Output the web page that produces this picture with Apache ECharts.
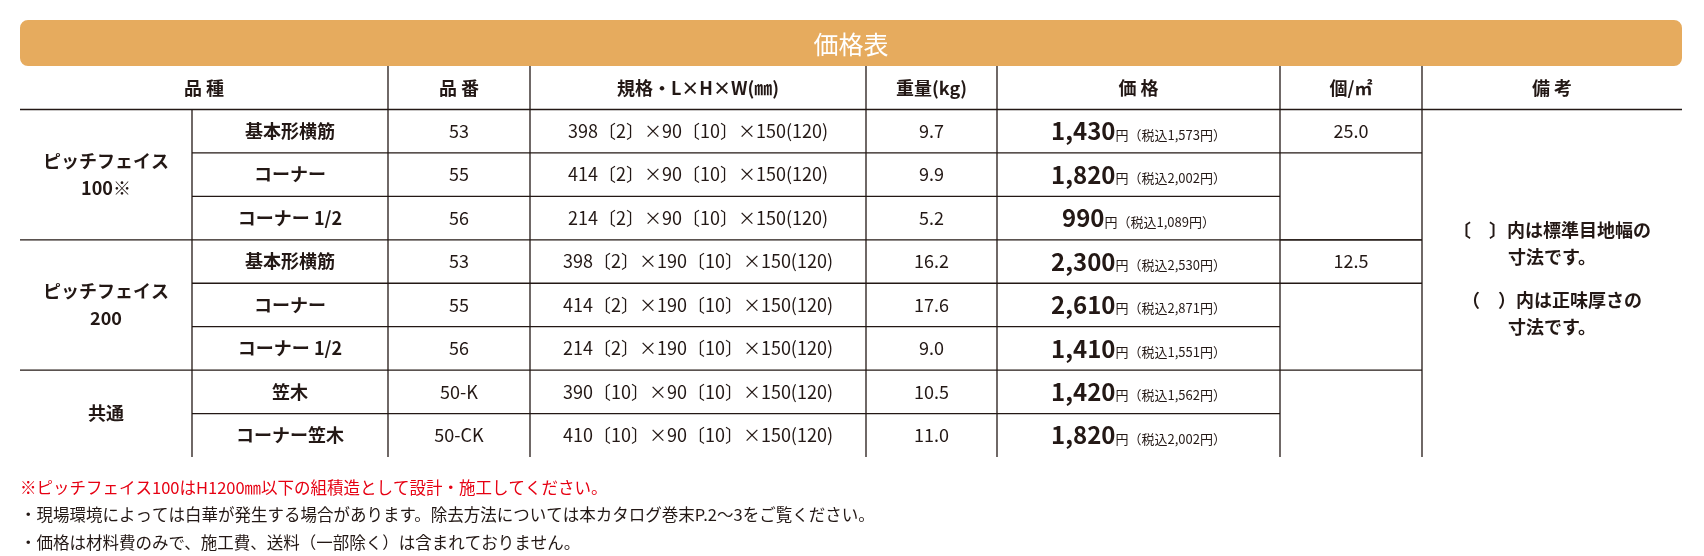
<!DOCTYPE html>
<html>
<head>
<meta charset="utf-8">
<script src="https://cdn.jsdelivr.net/npm/echarts@6/dist/echarts.min.js"></script>
<style>
html,body{margin:0;padding:0;background:#fff;}
#chart{width:1704px;height:556px;}
</style>
</head>
<body>
<div id="chart"></div>
<script>
var title = '価格表';
var headers = ['品 種', '品 番', '規格・L×H×W(㎜)', '重量(kg)', '価 格', '個/㎡', '備 考'];
var groups = ['ピッチフェイス\n100※', 'ピッチフェイス\n200', '共通'];
var groupRows = [[0, 3], [3, 6], [6, 8]];
var names = ['基本形横筋', 'コーナー', 'コーナー 1/2', '基本形横筋', 'コーナー', 'コーナー 1/2', '笠木', 'コーナー笠木'];
var codes = ['53', '55', '56', '53', '55', '56', '50-K', '50-CK'];
var specs = ['398〔2〕×90〔10〕×150(120)', '414〔2〕×90〔10〕×150(120)', '214〔2〕×90〔10〕×150(120)',
  '398〔2〕×190〔10〕×150(120)', '414〔2〕×190〔10〕×150(120)', '214〔2〕×190〔10〕×150(120)',
  '390〔10〕×90〔10〕×150(120)', '410〔10〕×90〔10〕×150(120)'];
var weights = ['9.7', '9.9', '5.2', '16.2', '17.6', '9.0', '10.5', '11.0'];
var prices = ['1,430', '1,820', '990', '2,300', '2,610', '1,410', '1,420', '1,820'];
var taxPrices = ['1,573', '2,002', '1,089', '2,530', '2,871', '1,551', '1,562', '2,002'];
var perM2 = ['25.0', '', '', '12.5', '', '', '', ''];
var perM2Rows = [[0, 1], [1, 3], [3, 4], [4, 8]];
var notes = ['〔　〕内は標準目地幅の\n寸法です。', '（　）内は正味厚さの\n寸法です。'];
var footnotes = ['※ピッチフェイス100はH1200㎜以下の組積造として設計・施工してください。',
  '・現場環境によっては白華が発生する場合があります。除去方法については本カタログ巻末P.2〜3をご覧ください。',
  '・価格は材料費のみで、施工費、送料（一部除く）は含まれておりません。'];

// layout: column edges on the x axis, rows on the y axis (header = -1, title = -2.06)
var colX = [20, 192, 388, 530, 866, 997, 1280, 1422, 1682];
var FONT = '"Noto Sans CJK JP", sans-serif';
var INK = '#231815';

var chart = echarts.init(document.getElementById('chart'));

// cells: [x0, x1, y0, y1, type, text]
var cells = [];
cells.push([colX[0], colX[8], -2.06, -1, 'title', title]);
cells.push([colX[0], colX[2], -1, 0, 'head', headers[0]]);
for (var h = 1; h < headers.length; h++) cells.push([colX[h + 1], colX[h + 2], -1, 0, 'head', headers[h]]);
groupRows.forEach(function (g, i) { cells.push([colX[0], colX[1], g[0], g[1], 'bold', groups[i]]); });
for (var r = 0; r < names.length; r++) {
  cells.push([colX[1], colX[2], r, r + 1, 'bold', names[r]]);
  cells.push([colX[2], colX[3], r, r + 1, 'norm', codes[r]]);
  cells.push([colX[3], colX[4], r, r + 1, 'norm', specs[r]]);
  cells.push([colX[4], colX[5], r, r + 1, 'norm', weights[r]]);
  cells.push([colX[5], colX[6], r, r + 1, 'price', '{b|' + prices[r] + '}{s|円（税込' + taxPrices[r] + '円）}']);
}
perM2Rows.forEach(function (g) { cells.push([colX[6], colX[7], g[0], g[0] + 1, 'norm', perM2[g[0]]]); });
cells.push([colX[7], colX[8], 2.6, 3.6, 'bold', notes[0]]);
cells.push([colX[7], colX[8], 4.2, 5.2, 'bold', notes[1]]);
footnotes.forEach(function (t, i) { cells.push([colX[0], colX[0] + 10, 8.5 + i * 0.64, 8.9 + i * 0.64, i === 0 ? 'red' : 'foot', t]); });

// lines: [x0, y0, x1, y1]
var lines = [];
lines.push([colX[0], 0, colX[8], 0]);
[3, 6].forEach(function (y) { lines.push([colX[0], y, colX[7], y]); });
[1, 2, 4, 5, 7].forEach(function (y) { lines.push([colX[1], y, colX[6], y]); });
[1, 3, 4].forEach(function (y) { lines.push([colX[6], y, colX[7], y]); });
[2, 3, 4, 5, 6, 7].forEach(function (i) { lines.push([colX[i], -1, colX[i], 8]); });
lines.push([colX[1], 0, colX[1], 8]);

var styles = {
  head: { fontSize: 18, fontWeight: 'bold' },
  bold: { fontSize: 18, fontWeight: 'bold', lineHeight: 27 },
  norm: { fontSize: 18 },
  foot: { fontSize: 16.5, align: 'left' },
  red: { fontSize: 16.5, align: 'left', fill: '#e60012' }
};

function renderCell(params, api) {
  var d = cells[params.dataIndex];
  var p0 = api.coord([d[0], d[2]]);
  var p1 = api.coord([d[1], d[3]]);
  var cx = (p0[0] + p1[0]) / 2, cy = (p0[1] + p1[1]) / 2;
  if (d[4] === 'title') {
    return { type: 'group', children: [
      { type: 'rect', shape: { x: p0[0], y: p0[1], width: p1[0] - p0[0], height: p1[1] - p0[1], r: 8 }, style: { fill: '#e6ab5e' } },
      { type: 'text', x: cx, y: cy + 1, style: { text: d[5], fill: '#fff', fontSize: 25, fontFamily: FONT, align: 'center', verticalAlign: 'middle' } }
    ] };
  }
  if (d[4] === 'price') {
    return { type: 'text', x: cx, y: cy, style: { text: d[5], fill: INK, fontFamily: FONT, align: 'center', verticalAlign: 'middle',
      rich: { b: { fontSize: 24, fontWeight: 'bold', fontFamily: FONT, fill: INK },
              s: { fontSize: 13, fontFamily: FONT, fill: INK, padding: [7, 0, 0, 0] } } } };
  }
  var s = styles[d[4]];
  var left = s.align === 'left';
  return { type: 'text', x: left ? p0[0] : cx, y: cy, style: {
    text: d[5], fill: s.fill || INK, fontSize: s.fontSize, fontWeight: s.fontWeight || 'normal',
    lineHeight: s.lineHeight, fontFamily: FONT, align: left ? 'left' : 'center', verticalAlign: 'middle' } };
}

function renderLine(params, api) {
  var d = lines[params.dataIndex];
  var a = api.coord([d[0], d[1]]), b = api.coord([d[2], d[3]]);
  return { type: 'line', shape: { x1: a[0], y1: a[1], x2: b[0], y2: b[1] }, style: { stroke: INK, lineWidth: 1.3 } };
}

chart.setOption({
  animation: false,
  grid: { left: 0, right: 0, top: 20, bottom: 99 },
  xAxis: { type: 'value', min: 0, max: 1704, show: false },
  yAxis: { type: 'value', min: -2.06, max: 8, inverse: true, show: false },
  series: [
    { type: 'custom', renderItem: renderLine, data: lines, clip: false, silent: true },
    { type: 'custom', renderItem: renderCell, data: cells, clip: false, silent: true }
  ]
});
window.addEventListener('resize', chart.resize);
</script>
</body>
</html>
